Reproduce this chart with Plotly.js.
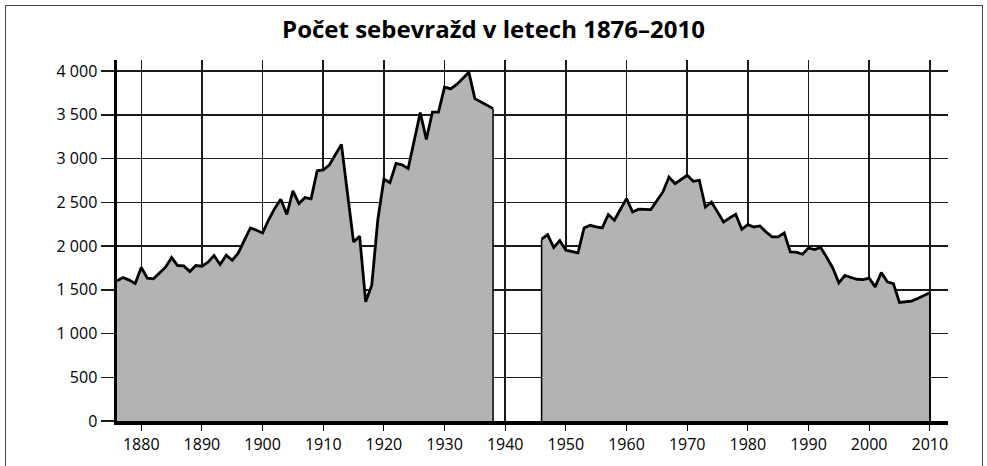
<!DOCTYPE html>
<html>
<head>
<meta charset="utf-8">
<script src="https://cdn.plot.ly/plotly-3.0.1.min.js"></script>
<style>
html,body{margin:0;padding:0;background:#fff;overflow:hidden;}
#chart{position:absolute;left:0;top:0;width:987px;height:466px;}
#frame{position:absolute;left:5px;top:5px;width:978px;height:470px;box-sizing:border-box;border:1px solid #444;pointer-events:none;z-index:10;}
</style>
</head>
<body>
<div id="chart"></div>
<div id="frame"></div>
<script>
const titleText = "Počet sebevražd v letech 1876–2010";

const years1 = [1876,1877,1878,1879,1880,1881,1882,1883,1884,1885,1886,1887,1888,1889,1890,
  1891,1892,1893,1894,1895,1896,1897,1898,1899,1900,1901,1902,1903,1904,1905,1906,1907,1908,1909,1910,
  1911,1912,1913,1914,1915,1916,1917,1918,1919,1920,1921,1922,1923,1924,1925,1926,1927,1928,1929,1930,
  1931,1932,1933,1934,1935,1936,1937,1938];
const values1 = [1602,1640,1610,1572,1755,1632,1625,1687,1758,1868,1777,1773,1709,1777,1769,
  1815,1891,1789,1895,1837,1920,2067,2207,2180,2149,2300,2430,2535,2360,2630,2485,2554,2540,2860,2870,
  2925,3042,3162,2600,2047,2112,1362,1553,2300,2763,2725,2945,2928,2885,3200,3524,3219,3531,3531,3816,
  3795,3847,3915,3987,3684,3650,3610,3570];

const years2 = [1946,1947,1948,1949,1950,1951,1952,1953,1954,1955,1956,1957,1958,1959,1960,
  1961,1962,1963,1964,1965,1966,1967,1968,1969,1970,1971,1972,1973,1974,1975,1976,1977,1978,1979,1980,
  1981,1982,1983,1984,1985,1986,1987,1988,1989,1990,1991,1992,1993,1994,1995,1996,1997,1998,1999,2000,
  2001,2002,2003,2004,2005,2006,2007,2008,2009,2010];
const values2 = [2078,2131,1983,2063,1952,1935,1921,2207,2237,2220,2207,2360,2295,2420,2542,
  2389,2420,2418,2417,2517,2618,2789,2713,2760,2808,2740,2751,2446,2503,2390,2275,2320,2363,2192,2245,
  2218,2229,2160,2104,2104,2150,1933,1930,1906,1978,1960,1983,1872,1749,1579,1663,1640,1620,1615,1632,
  1533,1697,1590,1570,1355,1360,1370,1400,1432,1465];

const xTickVals = [1880,1890,1900,1910,1920,1930,1940,1950,1960,1970,1980,1990,2000,2010];
const yTickVals = [0,500,1000,1500,2000,2500,3000,3500,4000];
const yTickText = ["0","500","1 000","1 500","2 000","2 500","3 000","3 500","4 000"];

const fillColor = "#b3b3b3";
const areaTrace = (xs, ys) => ({
  x: xs, y: ys, type: "scatter", mode: "lines", fill: "tozeroy",
  fillcolor: fillColor, line: {color: "#000", width: 2.8, shape: "linear"},
  hoverinfo: "skip", showlegend: false
});
const edge = (x, y) => ({
  x: [x, x], y: [0, y], type: "scatter", mode: "lines",
  line: {color: "#000", width: 1.5}, hoverinfo: "skip", showlegend: false
});

const data = [
  areaTrace(years1, values1),
  areaTrace(years2, values2),
  edge(years1[years1.length-1], values1[values1.length-1]),
  edge(years2[0], values2[0]),
  edge(years2[years2.length-1], values2[values2.length-1])
];

const tickFont = {family: "Open Sans, sans-serif", size: 16, color: "#000"};

const layout = {
  width: 987, height: 466,
  margin: {l: 117, r: 39, t: 60, b: 45, pad: 0},
  paper_bgcolor: "#fff", plot_bgcolor: "#fff",
  title: {text: "<b>" + titleText + "</b>", x: 0.5, xanchor: "center", y: 1 - 30/466, yanchor: "middle", yref: "container",
    font: {family: "Open Sans, sans-serif", size: 24, color: "#000"}},
  xaxis: {
    range: [1876, 2013], tickvals: xTickVals, ticktext: xTickVals.map(String),
    showgrid: true, gridcolor: "#1a1a1a", gridwidth: 1.5,
    showline: true, linecolor: "#000", linewidth: 3.5,
    ticks: "outside", ticklen: 6, tickwidth: 1, tickcolor: "#000",
    zeroline: false, tickfont: tickFont, fixedrange: true
  },
  yaxis: {
    range: [0, 4126], tickvals: yTickVals, ticktext: yTickText,
    showgrid: true, gridcolor: "#1a1a1a", gridwidth: 1.5,
    showline: true, linecolor: "#000", linewidth: 3.5,
    ticks: "outside", ticklen: 13, tickwidth: 1.5, tickcolor: "#1a1a1a",
    zeroline: false, tickfont: tickFont, fixedrange: true
  },
  showlegend: false
};

Plotly.newPlot("chart", data, layout, {displayModeBar: false, staticPlot: true});
</script>
</body>
</html>
